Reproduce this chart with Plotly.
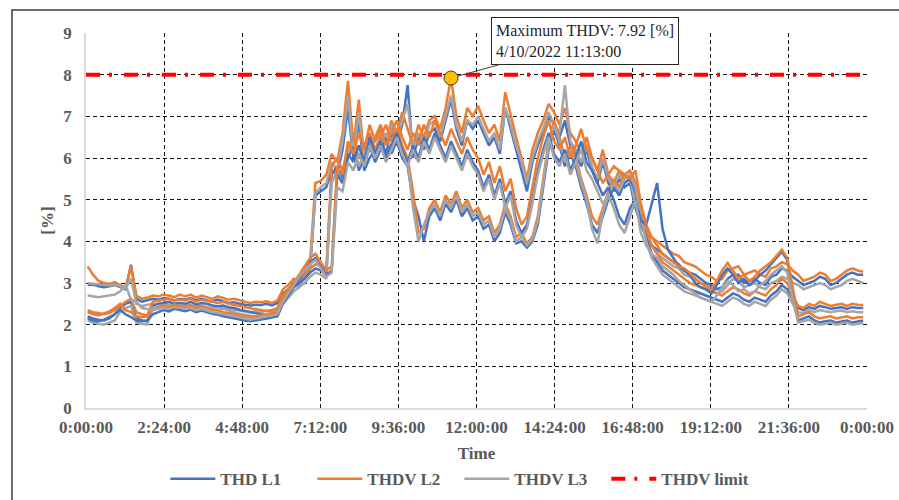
import plotly.graph_objects as go

# Readings every 10 minutes starting at 0:03 (last one 23:53), in hours
sample_minutes = list(range(3, 24 * 60, 10))
hours = [m / 60 for m in sample_minutes]

# THD values [%] per day and phase; each row holds 3 hours (18 readings)
day1_l1 = [
    2.95, 2.96, 2.92, 2.90, 2.92, 2.95, 2.90, 2.85, 3.44, 2.62, 2.55, 2.58, 2.62, 2.60, 2.64, 2.62, 2.58, 2.62,
    2.60, 2.64, 2.58, 2.62, 2.58, 2.55, 2.60, 2.56, 2.52, 2.54, 2.50, 2.48, 2.46, 2.48, 2.47, 2.50, 2.46, 2.52,
    2.75, 2.85, 3.00, 2.95, 3.20, 3.35, 5.10, 5.20, 5.30, 5.70, 5.60, 6.20, 7.20, 6.00, 6.90, 5.70, 6.00, 6.20,
    6.50, 6.10, 6.60, 6.30, 6.80, 7.75, 6.00, 6.50, 6.20, 6.60, 6.70, 6.40, 6.90, 7.40, 6.70, 6.30, 6.90, 6.70,
    6.90, 6.60, 6.30, 6.50, 6.10, 7.20, 6.70, 6.20, 5.70, 5.20, 5.90, 6.30, 6.60, 7.00, 6.80, 6.50, 6.90, 6.30,
    6.10, 5.80, 6.20, 5.70, 5.40, 5.90, 5.40, 5.20, 5.50, 5.30, 5.40, 4.80, 4.40, 4.10, 3.90, 3.80, 3.70, 3.60,
    3.50, 3.45, 3.30, 3.25, 3.20, 3.10, 3.00, 2.95, 2.85, 2.90, 3.10, 3.20, 3.20, 3.00, 3.05, 3.10, 3.00, 2.95,
    3.15, 3.20, 3.35, 3.30, 3.15, 3.05, 2.95, 3.00, 3.05, 3.15, 3.10, 2.95, 3.00, 3.10, 3.20, 3.25, 3.20, 3.20,
]
day1_l2 = [
    3.40, 3.20, 3.05, 3.00, 2.98, 3.02, 2.95, 2.88, 3.40, 2.70, 2.62, 2.65, 2.70, 2.68, 2.72, 2.70, 2.66, 2.72,
    2.68, 2.72, 2.65, 2.70, 2.66, 2.62, 2.68, 2.64, 2.60, 2.62, 2.58, 2.55, 2.52, 2.55, 2.54, 2.56, 2.52, 2.58,
    2.85, 2.95, 3.10, 3.05, 3.35, 3.50, 5.40, 5.45, 5.60, 6.10, 5.90, 6.60, 7.85, 6.30, 7.40, 6.00, 6.30, 6.50,
    6.80, 6.40, 6.90, 6.60, 7.10, 6.70, 6.30, 6.80, 6.50, 6.90, 7.00, 6.70, 7.20, 7.92, 7.00, 6.60, 7.20, 7.00,
    7.25, 6.90, 6.60, 6.80, 6.40, 7.58, 7.00, 6.50, 6.00, 5.50, 6.20, 6.60, 6.90, 7.30, 7.10, 6.80, 7.20, 6.60,
    6.40, 6.10, 6.50, 6.00, 5.70, 6.20, 5.60, 5.40, 5.70, 5.50, 5.60, 5.00, 4.60, 4.30, 4.10, 4.00, 3.90, 3.80,
    3.70, 3.65, 3.50, 3.45, 3.40, 3.30, 3.20, 3.15, 3.05, 3.10, 3.30, 3.35, 3.40, 3.20, 3.25, 3.30, 3.20, 3.15,
    3.35, 3.40, 3.50, 3.45, 3.30, 3.20, 3.05, 3.10, 3.15, 3.25, 3.20, 3.05, 3.10, 3.20, 3.30, 3.35, 3.30, 3.27,
]
day1_l3 = [
    3.00, 2.98, 2.96, 2.95, 2.94, 2.96, 2.92, 2.88, 3.10, 2.50, 2.45, 2.48, 2.50, 2.46, 2.50, 2.48, 2.45, 2.50,
    2.46, 2.48, 2.44, 2.46, 2.42, 2.40, 2.44, 2.40, 2.38, 2.36, 2.34, 2.32, 2.30, 2.32, 2.30, 2.34, 2.32, 2.36,
    2.65, 2.78, 2.95, 2.90, 3.15, 3.30, 5.16, 5.30, 5.40, 5.90, 5.70, 6.40, 7.47, 6.10, 7.10, 5.90, 6.20, 6.40,
    6.60, 6.30, 6.80, 6.40, 6.90, 7.30, 6.20, 6.60, 6.30, 6.80, 6.90, 6.50, 7.00, 7.50, 6.80, 6.40, 6.90, 6.80,
    7.00, 6.70, 6.40, 6.60, 6.20, 7.20, 6.80, 6.30, 5.90, 5.40, 6.00, 6.40, 6.70, 7.10, 6.80, 6.60, 7.75, 6.40,
    6.20, 5.90, 6.30, 5.80, 5.50, 6.00, 5.50, 5.30, 5.60, 5.40, 5.50, 4.90, 4.50, 4.20, 3.90, 3.70, 3.60, 3.50,
    3.40, 3.35, 3.20, 3.15, 3.10, 3.00, 2.90, 2.85, 2.75, 2.80, 2.95, 3.10, 3.05, 2.90, 2.95, 3.00, 2.90, 2.85,
    3.00, 3.05, 3.15, 3.10, 3.00, 2.95, 2.85, 2.90, 2.95, 3.00, 2.95, 2.85, 2.90, 2.95, 3.05, 3.10, 3.05, 3.00,
]

day2_l1 = [
    2.20, 2.15, 2.12, 2.10, 2.15, 2.25, 2.40, 2.50, 2.55, 2.15, 2.10, 2.08, 2.45, 2.50, 2.52, 2.55, 2.50, 2.52,
    2.50, 2.55, 2.48, 2.52, 2.50, 2.46, 2.44, 2.46, 2.42, 2.40, 2.36, 2.33, 2.30, 2.28, 2.25, 2.22, 2.25, 2.30,
    2.60, 2.75, 2.90, 3.00, 3.10, 3.25, 3.35, 3.30, 3.20, 5.60, 5.80, 5.50, 6.00, 6.30, 5.70, 6.00, 6.30, 5.90,
    6.20, 6.50, 6.10, 6.40, 6.00, 5.80, 5.00, 4.60, 4.00, 4.60, 4.80, 4.50, 4.90, 4.70, 5.00, 4.60, 4.80, 4.50,
    4.60, 4.30, 4.40, 4.00, 4.20, 4.70, 4.40, 3.95, 4.00, 3.85, 4.00, 4.40, 5.30, 6.20, 6.70, 6.30, 5.80, 6.10,
    5.80, 5.30, 4.90, 4.40, 4.20, 4.60, 5.00, 5.30, 5.10, 5.40, 5.50, 5.20, 4.60, 4.10, 3.70, 3.50, 3.30, 3.20,
    3.10, 3.00, 2.90, 2.85, 2.80, 2.75, 2.70, 2.65, 2.60, 2.55, 2.65, 2.75, 2.70, 2.60, 2.55, 2.65, 2.60, 2.55,
    2.70, 2.80, 2.95, 2.85, 2.60, 2.40, 2.35, 2.42, 2.38, 2.45, 2.42, 2.38, 2.40, 2.42, 2.38, 2.42, 2.40, 2.40,
]
day2_l2 = [
    2.35, 2.30, 2.28, 2.25, 2.28, 2.35, 2.45, 2.55, 2.62, 2.30, 2.25, 2.22, 2.55, 2.58, 2.60, 2.62, 2.58, 2.60,
    2.58, 2.62, 2.55, 2.60, 2.58, 2.55, 2.52, 2.55, 2.50, 2.48, 2.45, 2.42, 2.40, 2.38, 2.35, 2.32, 2.35, 2.40,
    2.70, 2.85, 3.00, 3.10, 3.20, 3.35, 3.45, 3.40, 3.30, 5.80, 6.00, 5.70, 6.20, 6.50, 6.00, 6.30, 6.60, 6.20,
    6.50, 6.80, 6.40, 6.70, 6.30, 6.00, 5.20, 4.20, 4.30, 4.80, 5.00, 4.70, 5.10, 4.90, 5.20, 4.80, 5.00, 4.70,
    4.80, 4.50, 4.60, 4.20, 4.40, 4.90, 4.60, 4.10, 4.20, 3.95, 4.10, 4.60, 5.50, 6.40, 6.90, 6.50, 6.00, 6.30,
    6.00, 5.50, 5.10, 4.60, 4.40, 4.80, 5.20, 5.50, 5.30, 5.60, 5.70, 5.40, 4.80, 4.30, 3.90, 3.70, 3.50, 3.40,
    3.30, 3.20, 3.10, 3.00, 2.95, 2.90, 2.85, 2.80, 2.75, 2.70, 2.80, 2.90, 2.85, 2.75, 2.70, 2.80, 2.75, 2.70,
    2.85, 2.95, 3.10, 3.00, 2.70, 2.45, 2.40, 2.50, 2.45, 2.55, 2.50, 2.45, 2.48, 2.50, 2.45, 2.50, 2.48, 2.47,
]
day2_l3 = [
    2.10, 2.05, 2.02, 2.00, 2.05, 2.10, 2.30, 2.40, 2.45, 2.05, 2.02, 2.00, 2.40, 2.45, 2.45, 2.48, 2.44, 2.46,
    2.44, 2.48, 2.42, 2.45, 2.42, 2.38, 2.36, 2.38, 2.34, 2.30, 2.26, 2.24, 2.22, 2.20, 2.18, 2.15, 2.18, 2.22,
    2.50, 2.65, 2.80, 2.90, 3.00, 3.15, 3.25, 3.20, 3.10, 5.40, 5.70, 5.40, 6.10, 6.40, 5.80, 6.10, 6.40, 6.00,
    6.30, 6.60, 6.20, 6.50, 6.10, 5.90, 4.80, 4.00, 4.40, 4.70, 4.90, 4.60, 5.00, 4.80, 5.10, 4.70, 4.90, 4.60,
    4.70, 4.40, 4.50, 4.10, 4.30, 4.80, 4.50, 4.00, 4.10, 3.90, 4.05, 4.50, 5.40, 6.30, 6.80, 6.40, 5.90, 6.20,
    5.90, 5.40, 5.00, 4.30, 3.95, 4.70, 5.10, 5.40, 5.20, 5.50, 5.60, 5.30, 4.60, 4.00, 3.60, 3.40, 3.20, 3.10,
    3.00, 2.90, 2.80, 2.75, 2.70, 2.65, 2.60, 2.55, 2.50, 2.45, 2.55, 2.65, 2.60, 2.50, 2.45, 2.55, 2.50, 2.45,
    2.60, 2.70, 2.85, 2.75, 2.50, 2.30, 2.28, 2.35, 2.30, 2.35, 2.32, 2.30, 2.32, 2.34, 2.30, 2.32, 2.30, 2.30,
]

day3_l1 = [
    2.15, 2.10, 2.08, 2.12, 2.18, 2.25, 2.35, 2.25, 2.18, 2.10, 2.08, 2.10, 2.25, 2.30, 2.35, 2.32, 2.38, 2.35,
    2.32, 2.36, 2.30, 2.34, 2.30, 2.26, 2.24, 2.20, 2.18, 2.15, 2.12, 2.10, 2.08, 2.10, 2.12, 2.15, 2.18, 2.20,
    2.50, 2.70, 2.90, 3.10, 3.30, 3.50, 3.60, 3.40, 3.20, 3.30, 5.60, 5.40, 6.10, 5.90, 6.30, 5.90, 6.50, 6.10,
    6.40, 6.00, 6.30, 6.60, 6.20, 5.90, 6.30, 6.00, 6.50, 6.20, 6.60, 6.30, 6.00, 6.40, 6.10, 5.80, 6.20, 5.90,
    5.70, 5.30, 5.60, 5.10, 5.50, 4.90, 5.20, 4.50, 4.20, 4.40, 5.00, 5.70, 6.20, 6.60, 6.10, 5.90, 6.20, 5.70,
    6.00, 6.40, 5.90, 5.70, 5.40, 5.10, 5.30, 5.00, 4.60, 4.40, 4.80, 5.00, 4.50, 4.40, 4.90, 5.40, 4.30, 3.80,
    3.60, 3.40, 3.30, 3.20, 3.00, 2.90, 2.85, 2.75, 2.95, 3.20, 3.35, 3.20, 3.00, 3.10, 2.95, 3.05, 3.20, 3.30,
    3.45, 3.60, 3.75, 3.55, 2.80, 2.10, 2.15, 2.20, 2.10, 2.05, 2.08, 2.10, 2.05, 2.08, 2.10, 2.05, 2.08, 2.10,
]
day3_l2 = [
    2.30, 2.25, 2.22, 2.28, 2.32, 2.40, 2.50, 2.35, 2.30, 2.20, 2.18, 2.20, 2.35, 2.40, 2.45, 2.42, 2.48, 2.45,
    2.42, 2.46, 2.40, 2.44, 2.40, 2.36, 2.34, 2.30, 2.28, 2.25, 2.22, 2.20, 2.18, 2.20, 2.22, 2.25, 2.28, 2.30,
    2.60, 2.80, 3.00, 3.20, 3.40, 3.60, 3.70, 3.50, 3.30, 3.40, 5.80, 5.60, 6.40, 6.10, 6.60, 6.20, 6.80, 6.40,
    6.70, 6.30, 6.60, 6.90, 6.50, 6.20, 6.60, 6.30, 6.80, 6.50, 6.90, 6.60, 6.30, 6.70, 6.40, 6.10, 6.50, 6.20,
    6.00, 5.60, 5.90, 5.40, 5.80, 5.20, 5.50, 4.80, 4.40, 4.60, 5.30, 6.00, 6.50, 6.90, 6.40, 6.20, 6.50, 6.00,
    6.30, 6.70, 6.20, 6.00, 5.70, 5.40, 5.60, 5.80, 5.70, 5.60, 5.50, 5.70, 4.90, 4.40, 4.10, 3.90, 3.70, 3.60,
    3.50, 3.40, 3.35, 3.25, 3.10, 3.00, 2.95, 2.85, 3.05, 3.30, 3.48, 3.30, 3.10, 3.20, 3.05, 3.15, 3.30, 3.40,
    3.50, 3.65, 3.80, 3.60, 2.90, 2.20, 2.25, 2.30, 2.20, 2.15, 2.18, 2.20, 2.15, 2.18, 2.20, 2.15, 2.18, 2.18,
]
day3_l3 = [
    2.70, 2.68, 2.66, 2.68, 2.70, 2.72, 2.80, 2.95, 2.60, 2.55, 2.40, 2.38, 2.35, 2.38, 2.40, 2.38, 2.42, 2.40,
    2.38, 2.40, 2.35, 2.38, 2.34, 2.30, 2.28, 2.25, 2.22, 2.20, 2.18, 2.15, 2.12, 2.15, 2.18, 2.20, 2.22, 2.25,
    2.55, 2.75, 2.95, 3.15, 3.30, 3.45, 3.55, 3.35, 3.15, 3.25, 5.30, 5.20, 5.90, 5.70, 6.10, 5.80, 6.30, 6.00,
    6.30, 5.90, 6.20, 6.50, 6.10, 5.80, 6.20, 5.90, 6.40, 6.10, 6.50, 6.20, 5.90, 6.30, 6.00, 5.70, 6.10, 5.80,
    5.60, 5.20, 5.50, 5.00, 5.40, 4.80, 5.10, 4.40, 4.10, 4.30, 4.90, 5.60, 6.10, 6.50, 6.00, 5.80, 6.10, 5.60,
    5.90, 6.20, 5.70, 5.50, 5.20, 4.90, 5.10, 4.80, 4.40, 4.20, 4.60, 5.00, 4.20, 3.90, 3.70, 3.60, 3.40, 3.30,
    3.20, 3.05, 2.95, 2.85, 2.75, 2.65, 2.60, 2.55, 2.70, 2.90, 3.05, 2.95, 2.80, 2.85, 2.75, 2.80, 2.95, 3.05,
    3.20, 3.30, 3.40, 3.25, 2.60, 2.05, 2.08, 2.12, 2.05, 2.00, 2.02, 2.05, 2.00, 2.02, 2.05, 2.00, 2.02, 2.04,
]

limit_value = 8
max_time_h = 11 + 13 / 60
max_value = 7.92
max_label = "Maximum THDV: 7.92 [%]<br>4/10/2022 11:13:00"

tick_hours = [0, 2.4, 4.8, 7.2, 9.6, 12, 14.4, 16.8, 19.2, 21.6, 24]
tick_text = ["0:00:00", "2:24:00", "4:48:00", "7:12:00", "9:36:00", "12:00:00",
             "14:24:00", "16:48:00", "19:12:00", "21:36:00", "0:00:00"]

BLUE, ORANGE, GREY, RED = "#4472C4", "#ED7D31", "#A5A5A5", "#FF0000"
SERIF = "Liberation Serif"

phases = [
    ("THD L1", BLUE, [day1_l1, day2_l1, day3_l1]),
    ("THDV L2", ORANGE, [day1_l2, day2_l2, day3_l2]),
    ("THDV L3", GREY, [day1_l3, day2_l3, day3_l3]),
]

fig = go.Figure()

# Each day's three phases drawn together; legend entry only on the first day
for d in range(3):
    for name, color, days in phases:
        vals = days[d]
        assert len(vals) == len(hours), (name, d, len(vals))
        fig.add_trace(go.Scatter(
            x=hours, y=vals, mode="lines", name=name, legendgroup=name,
            showlegend=(d == 0), line=dict(color=color, width=2.5),
            hoverinfo="skip",
        ))

fig.add_trace(go.Scatter(
    x=[0, 24], y=[limit_value, limit_value], mode="lines", name="THDV limit",
    line=dict(color=RED, width=4, dash="14px,9px,3px,12px"),
))

fig.add_trace(go.Scatter(
    x=[max_time_h], y=[max_value], mode="markers", showlegend=False,
    marker=dict(size=14, color="#FFC000", line=dict(color="#404040", width=1)),
))

fig.add_annotation(
    x=max_time_h, y=max_value, xref="x", yref="y",
    text=max_label, showarrow=True, arrowhead=0, arrowwidth=1,
    arrowcolor="#404040", ax=134, ay=-37, standoff=7,
    align="left", bgcolor="white", bordercolor="#262626", borderwidth=1,
    borderpad=4, font=dict(family=SERIF, size=16, color="#262626"),
)

# Outer frame around the chart
fig.add_shape(type="rect", xref="paper", yref="paper",
              x0=-0.0948, x1=1.06, y0=-0.27, y1=1.0613,
              line=dict(color="#404040", width=1.5), fillcolor="rgba(0,0,0,0)")

axis_font = dict(family=SERIF, size=17, color="#595959", weight="bold")

fig.update_xaxes(
    range=[0, 24], tickvals=tick_hours, ticktext=tick_text,
    showgrid=True, gridcolor="#111111", griddash="4px,3px", gridwidth=1,
    showline=True, linecolor="#d9d9d9", linewidth=1.5, zeroline=False,
    ticks="", tickfont=axis_font, ticklabelstandoff=3, automargin=False,
    title=dict(text="Time", font=axis_font, standoff=11),
)
fig.update_yaxes(
    range=[0, 9], dtick=1, tick0=0,
    showgrid=True, gridcolor="#111111", griddash="4px,3px", gridwidth=1,
    showline=True, linecolor="#d9d9d9", linewidth=1.5, zeroline=False,
    ticks="", tickfont=axis_font, ticklabelstandoff=9, automargin=False,
    title=dict(text="[%]", font=axis_font, standoff=5),
)

fig.update_layout(
    width=899, height=500,
    margin=dict(l=86, r=32, t=33, b=92, autoexpand=False),
    paper_bgcolor="white", plot_bgcolor="white",
    font=dict(family=SERIF),
    showlegend=True,
    legend=dict(
        orientation="h", x=0.478, xanchor="center", y=-0.19, yanchor="middle",
        font=dict(family=SERIF, size=17, color="#595959", weight="bold"),
        entrywidth=87, itemwidth=45, bgcolor="rgba(0,0,0,0)",
    ),
)

fig.write_html("out.html")
